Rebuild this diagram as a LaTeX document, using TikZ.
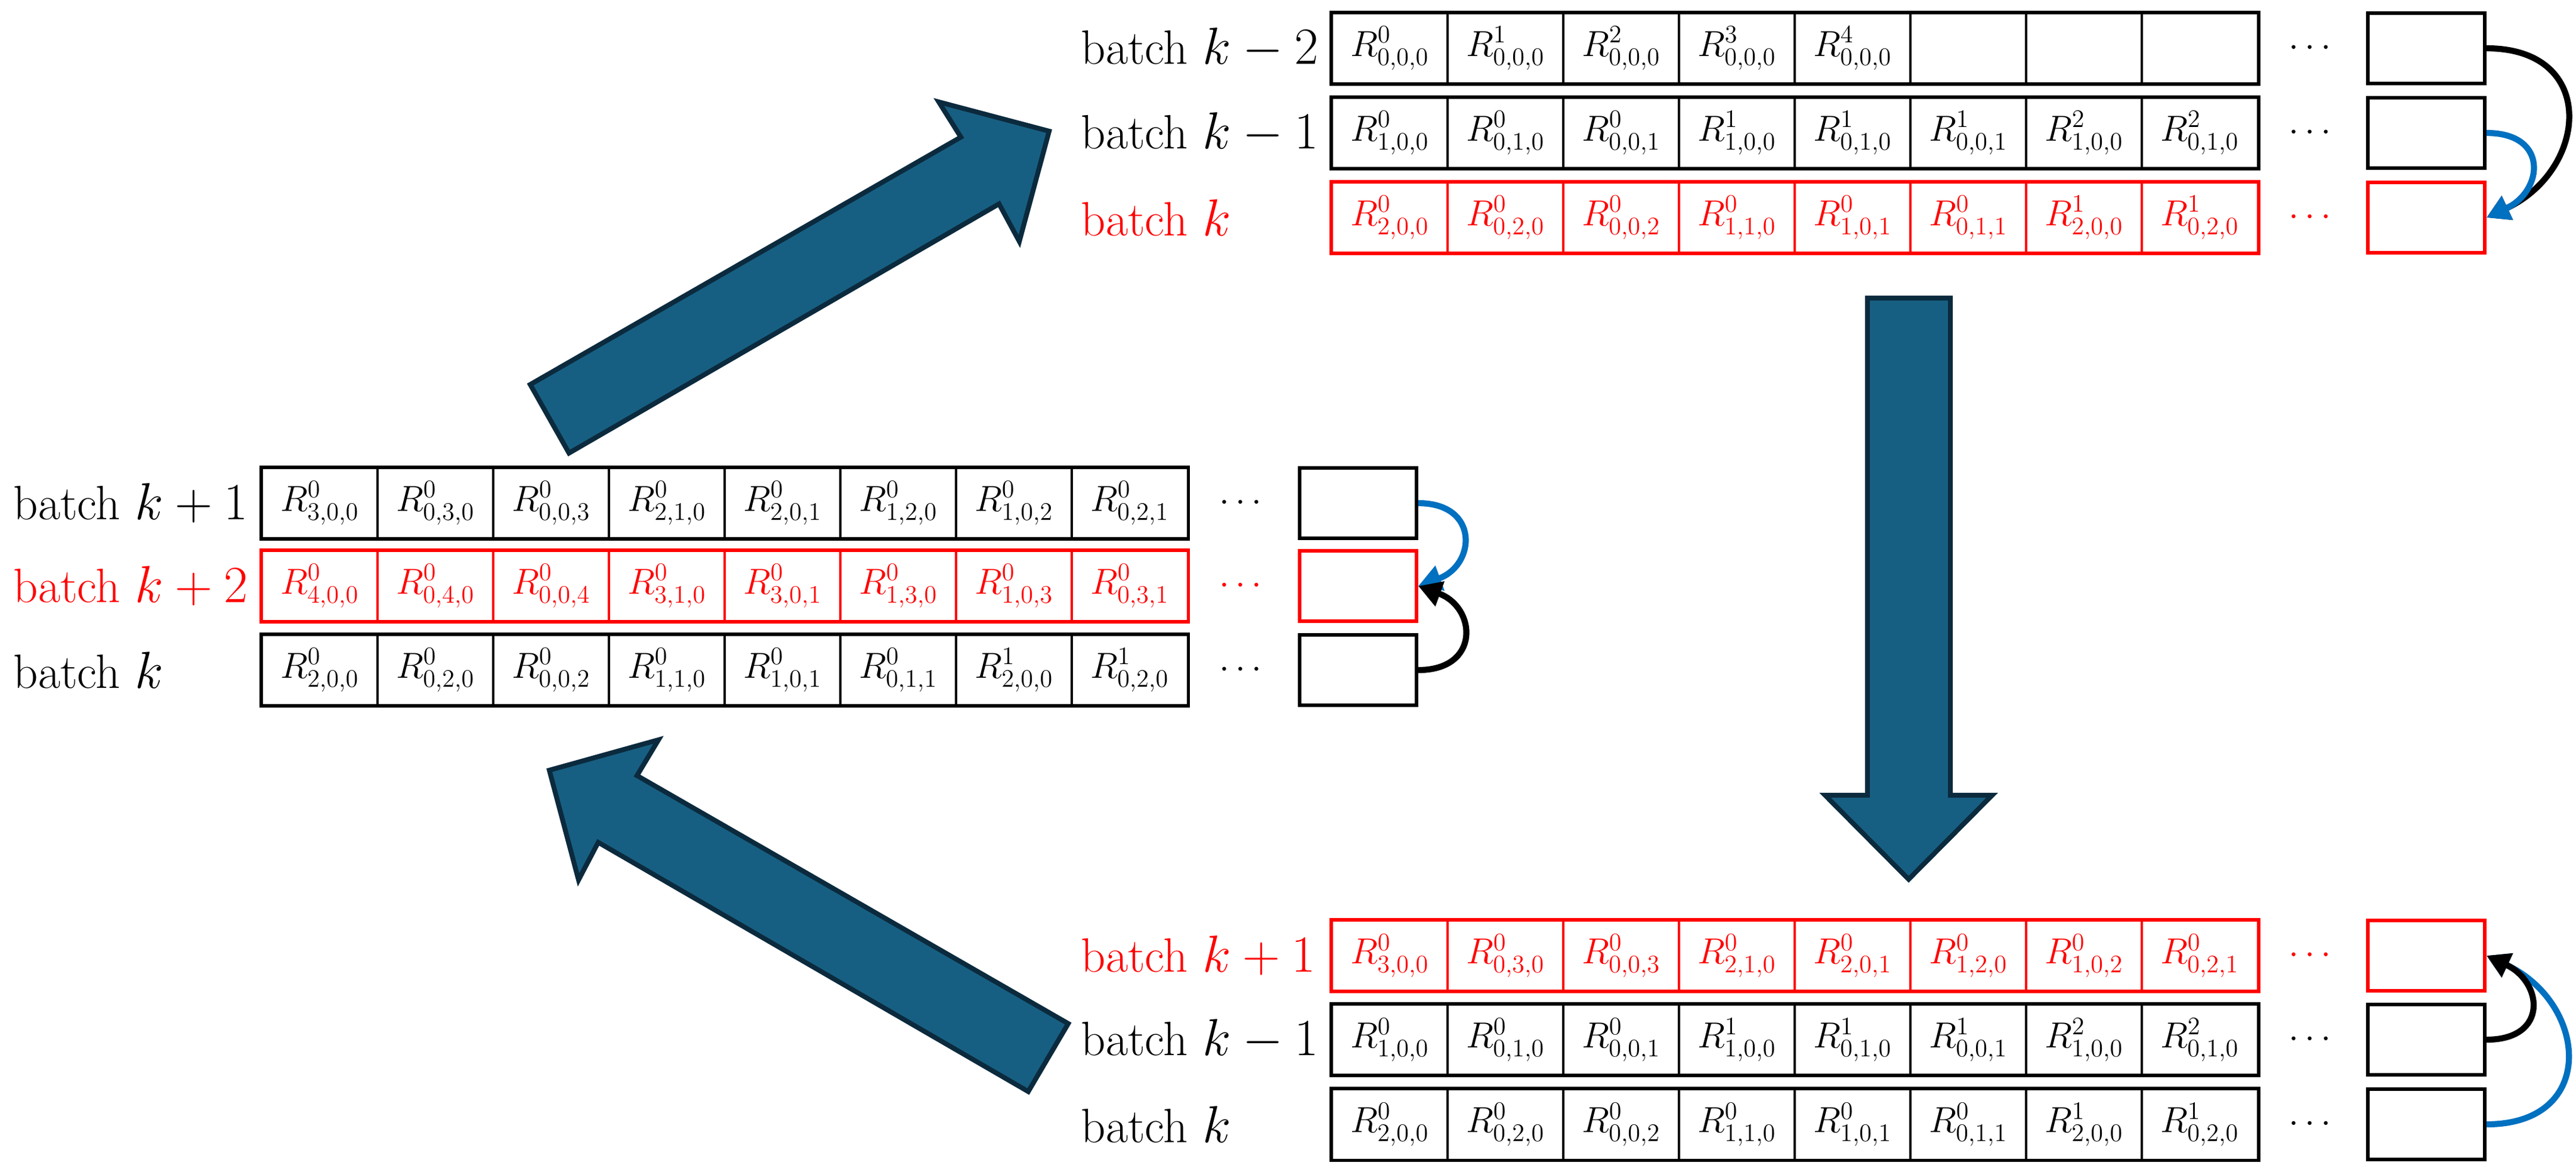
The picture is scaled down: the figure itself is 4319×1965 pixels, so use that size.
\documentclass[tikz,border=0pt]{standalone}
\usetikzlibrary{arrows.meta}
\definecolor{bigfill}{HTML}{175F82}
\definecolor{bigline}{HTML}{0B2A3D}
\definecolor{myblue}{HTML}{0070C0}
\definecolor{myred}{HTML}{FF0000}
\tikzset{
  cell/.style={draw, line width=0.9pt, minimum width=1.94cm, minimum height=1.18cm, inner sep=0pt, font=\fontsize{18}{20}\selectfont},
  endbox/.style={draw, line width=1.6pt, minimum width=1.96cm, minimum height=1.18cm, inner sep=0pt},
  lab/.style={anchor=west, inner sep=0pt, font=\fontsize{23}{27}\selectfont},
  dots/.style={inner sep=0pt, font=\fontsize{16}{18}\selectfont},
  big/.style={fill=bigfill, draw=bigline, line width=2.3pt, line join=miter},
  curv/.style={line width=2.9pt, -{Triangle[length=11pt,width=12pt]}},
}
% #1 name, #2 x0, #3 yc, #4 colour, #5 list, #6 label, #7 label x, #8 dots x, #9 end box x
\newcommand\brow[9]{%
  \foreach \t [count=\i from 0] in {#5} {
    \node[cell, draw=#4, text=#4] (#1c\i) at ({#2+97+194*\i},#3) {$\t$};
  }
  \draw[#4, line width=1.6pt] (#1c0.north west) rectangle (#1c7.south east);
  \node[dots, text=#4] (#1d) at (#8,#3) {$\cdots$};
  \node[endbox, draw=#4] (#1e) at (#9,#3) {};
  \node[lab, text=#4] (#1l) at (#7,#3) {#6};
}
\begin{document}
\begin{tikzpicture}[x=0.01cm, y=-0.01cm]
\useasboundingbox (0,0) rectangle (4319,1965);
% big arrows
\path[big] (889,645) -- (1611,230) -- (1574,171) -- (1759,220) -- (1709,405) -- (1675,342) -- (954,760) -- cycle;
\path[big] (1791,1717) -- (1068,1301) -- (1104,1241) -- (921,1292) -- (970,1476) -- (1003,1413) -- (1724,1831) -- cycle;
\path[big] (3131,500) -- (3270,500) -- (3270,1334) -- (3340,1334) -- (3200,1475) -- (3060,1334) -- (3131,1334) -- cycle;
% top group
\brow{ta}{2233}{81}{black}{{R^0_{0,0,0}},{R^1_{0,0,0}},{R^2_{0,0,0}},{R^3_{0,0,0}},{R^4_{0,0,0}},{},{},{}}{batch $k-2$}{1812}{3873}{4068}
\brow{tb}{2233}{223}{black}{{R^0_{1,0,0}},{R^0_{0,1,0}},{R^0_{0,0,1}},{R^1_{1,0,0}},{R^1_{0,1,0}},{R^1_{0,0,1}},{R^2_{1,0,0}},{R^2_{0,1,0}}}{batch $k-1$}{1812}{3873}{4068}
\brow{tc}{2233}{365}{myred}{{R^0_{2,0,0}},{R^0_{0,2,0}},{R^0_{0,0,2}},{R^0_{1,1,0}},{R^0_{1,0,1}},{R^0_{0,1,1}},{R^1_{2,0,0}},{R^1_{0,2,0}}}{batch $k$}{1812}{3873}{4068}
% middle group
\brow{ma}{439}{844}{black}{{R^0_{3,0,0}},{R^0_{0,3,0}},{R^0_{0,0,3}},{R^0_{2,1,0}},{R^0_{2,0,1}},{R^0_{1,2,0}},{R^0_{1,0,2}},{R^0_{0,2,1}}}{batch $k+1$}{22}{2080}{2277}
\brow{mb}{439}{983}{myred}{{R^0_{4,0,0}},{R^0_{0,4,0}},{R^0_{0,0,4}},{R^0_{3,1,0}},{R^0_{3,0,1}},{R^0_{1,3,0}},{R^0_{1,0,3}},{R^0_{0,3,1}}}{batch $k+2$}{22}{2080}{2277}
\brow{mc}{439}{1124}{black}{{R^0_{2,0,0}},{R^0_{0,2,0}},{R^0_{0,0,2}},{R^0_{1,1,0}},{R^0_{1,0,1}},{R^0_{0,1,1}},{R^1_{2,0,0}},{R^1_{0,2,0}}}{batch $k$}{22}{2080}{2277}
% bottom group
\brow{ba}{2233}{1603}{myred}{{R^0_{3,0,0}},{R^0_{0,3,0}},{R^0_{0,0,3}},{R^0_{2,1,0}},{R^0_{2,0,1}},{R^0_{1,2,0}},{R^0_{1,0,2}},{R^0_{0,2,1}}}{batch $k+1$}{1812}{3873}{4068}
\brow{bb}{2233}{1744}{black}{{R^0_{1,0,0}},{R^0_{0,1,0}},{R^0_{0,0,1}},{R^1_{1,0,0}},{R^1_{0,1,0}},{R^1_{0,0,1}},{R^2_{1,0,0}},{R^2_{0,1,0}}}{batch $k-1$}{1812}{3873}{4068}
\brow{bc}{2233}{1886}{black}{{R^0_{2,0,0}},{R^0_{0,2,0}},{R^0_{0,0,2}},{R^0_{1,1,0}},{R^0_{1,0,1}},{R^0_{0,1,1}},{R^1_{2,0,0}},{R^1_{0,2,0}}}{batch $k$}{1812}{3873}{4068}
% curved connectors
\draw[curv, black] (tae.east) to[out=0, in=25, looseness=1.7] (tce.east);
\draw[curv, myblue] (tbe.east) to[out=0, in=25, looseness=1.9] (tce.east);
\draw[curv, myblue] (mae.east) to[out=0, in=20, looseness=1.9] (mbe.east);
\draw[curv, black] (mce.east) to[out=0, in=-20, looseness=1.9] (mbe.east);
\draw[curv, myblue] (bce.east) to[out=0, in=-25, looseness=1.7] (bae.east);
\draw[curv, black] (bbe.east) to[out=0, in=-25, looseness=1.9] (bae.east);
\end{tikzpicture}
\end{document}
